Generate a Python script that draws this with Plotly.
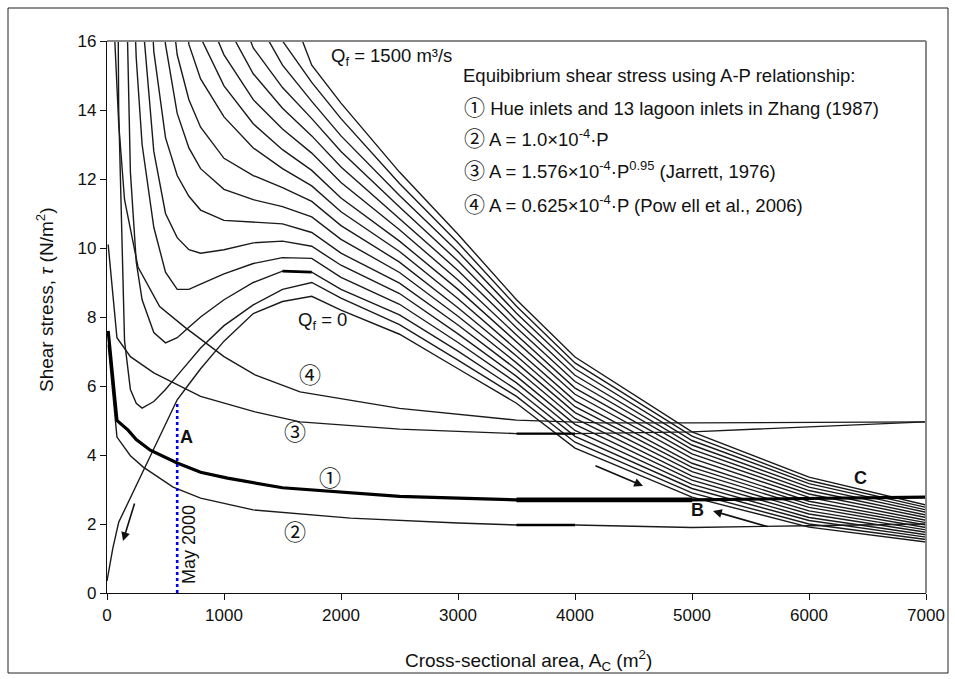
import plotly.graph_objects as go

# ---------------- data ----------------
A_nodes = [0, 50, 100, 150, 200, 250, 300, 400, 500, 600, 700, 800, 1000, 1250, 1500, 1750,
           2000, 2500, 3000, 3500, 4000, 5000, 6000, 7000]

tau_q0 = [0.35, 1.3, 2.05, 2.4, 2.76, 3.1, 3.47, 4.18, 4.9, 5.6, 6.05, 6.5, 7.3, 8.1, 8.45, 8.6,
          8.2, 7.5, 6.5, 5.5, 4.2, 2.78, 1.91, 1.48]
tau_q100 = [None, 40, 14.0, 7.3, 5.9, 5.5, 5.36, 5.55, 5.9, 6.3, 6.7, 7.1, 7.75, 8.35, 8.8, 9.0,
            8.55, 7.78, 6.75, 5.7, 4.37, 2.9, 2.0, 1.55]
tau_q200 = [None, None, 40, 20, 12.2, 9.6, 8.5, 7.55, 7.25, 7.4, 7.7, 8.0, 8.5, 9.0, 9.33, 9.3,
            8.8, 8.06, 7.01, 5.89, 4.54, 3.03, 2.1, 1.62]
tau_q300 = [None, None, None, 40, 20, 15.5, 13.0, 10.6, 9.3, 8.8, 8.8, 8.95, 9.25, 9.55, 9.72, 9.7,
            9.15, 8.37, 7.26, 6.09, 4.71, 3.15, 2.19, 1.69]
tau_q400 = [None, None, None, None, None, 20, 16.8, 12.8, 11.0, 10.3, 9.95, 9.85, 9.95, 10.15, 10.2, 10.05,
            9.5, 8.68, 7.51, 6.28, 4.89, 3.27, 2.29, 1.76]
tau_q500 = [None, None, None, None, None, None, 22, 15.7, 13.2, 12.1, 11.5, 11.1, 10.8, 10.75, 10.7, 10.45,
            9.85, 8.98, 7.77, 6.48, 5.06, 3.39, 2.38, 1.83]
tau_q600 = [None, None, None, None, None, None, None, 19.5, 15.9, 13.9, 12.9, 12.3, 11.7, 11.4, 11.2, 10.9,
            10.25, 9.29, 8.02, 6.67, 5.23, 3.52, 2.48, 1.9]
tau_q700 = [None, None, None, None, None, None, None, None, 18.5, 15.6, 14.3, 13.5, 12.6, 12.1, 11.75, 11.35,
            10.65, 9.59, 8.27, 6.87, 5.4, 3.64, 2.57, 1.97]
tau_q800 = [None, None, None, None, None, None, None, None, None, 18.5, 15.9, 14.9, 13.8, 12.9, 12.3, 11.8,
            11.05, 9.9, 8.53, 7.06, 5.57, 3.76, 2.66, 2.04]
tau_q900 = [None, None, None, None, None, None, None, None, None, None, 17.5, 16.1, 14.7, 13.6, 12.85, 12.25,
            11.45, 10.2, 8.8, 7.27, 5.76, 3.9, 2.77, 2.11]
tau_q1000 = [None, None, None, None, None, None, None, None, None, None, None, 17.2, 15.6, 14.3, 13.45, 12.75,
             11.9, 10.53, 9.07, 7.48, 5.94, 4.03, 2.87, 2.19]
tau_q1100 = [None, None, None, None, None, None, None, None, None, None, None, None, 16.6, 15.05, 14.05, 13.25,
             12.35, 10.86, 9.35, 7.69, 6.13, 4.16, 2.97, 2.26]
tau_q1200 = [None, None, None, None, None, None, None, None, None, None, None, None, 18.0, 15.8, 14.65, 13.75,
             12.8, 11.19, 9.62, 7.9, 6.31, 4.29, 3.07, 2.34]
tau_q1300 = [None, None, None, None, None, None, None, None, None, None, None, None, None, 16.8, 15.3, 14.25,
             13.25, 11.52, 9.89, 8.11, 6.5, 4.42, 3.17, 2.41]
tau_q1400 = [None, None, None, None, None, None, None, None, None, None, None, None, None, 18.5, 16.0, 14.8,
             13.75, 11.87, 10.15, 8.31, 6.67, 4.55, 3.26, 2.48]
tau_q1500 = [None, None, None, None, None, None, None, None, None, None, None, None, None, None, 17.5, 15.3,
             14.2, 12.2, 10.4, 8.5, 6.84, 4.67, 3.36, 2.55]

family = [tau_q0, tau_q100, tau_q200, tau_q300, tau_q400, tau_q500, tau_q600, tau_q700,
          tau_q800, tau_q900, tau_q1000, tau_q1100, tau_q1200, tau_q1300, tau_q1400, tau_q1500]

# equilibrium shear stress curves (A-P relationships)
eq1_A = [10, 85, 180, 250, 370, 600, 800, 1030, 1500, 2080, 2500, 3000, 3500, 5000, 7000]
eq1_tau = [7.6, 5.0, 4.72, 4.45, 4.14, 3.77, 3.5, 3.33, 3.05, 2.9, 2.8, 2.75, 2.7, 2.7, 2.78]
eq2_A = [10, 85, 200, 310, 565, 800, 1250, 2080, 3000, 3500, 4000, 5000, 6000, 7000]
eq2_tau = [7.2, 4.52, 3.98, 3.65, 3.07, 2.75, 2.41, 2.17, 2.03, 1.97, 1.97, 1.9, 1.95, 2.0]
eq3_A = [10, 85, 200, 400, 800, 1265, 1650, 2500, 3500, 4000, 5000, 6000, 7000]
eq3_tau = [10.1, 7.4, 6.85, 6.38, 5.7, 5.25, 4.96, 4.75, 4.62, 4.62, 4.67, 4.82, 4.96]
eq4_A = [60, 100, 150, 265, 450, 667, 1000, 1265, 1650, 2500, 3500, 4200, 5000, 7000]
eq4_tau = [16.5, 13.6, 11.4, 9.45, 8.3, 7.7, 6.85, 6.32, 5.83, 5.35, 5.01, 4.93, 4.93, 4.96]

may2000_A = [600, 600]
may2000_tau = [0, 5.55]

x_ticks = [0, 1000, 2000, 3000, 4000, 5000, 6000, 7000]
y_ticks = [0, 2, 4, 6, 8, 10, 12, 14, 16]

FONT = "Liberation Sans, Arial, Noto Sans CJK JP, sans-serif"
fig = go.Figure()

for tau in family:
    fig.add_trace(go.Scatter(x=A_nodes, y=tau, mode="lines",
                             line=dict(color="#1a1a1a", width=1.4), hoverinfo="skip"))
# slightly heavier segment on the Qf=200 curve
fig.add_trace(go.Scatter(x=A_nodes[14:16], y=tau_q200[14:16], mode="lines",
                         line=dict(color="#000", width=2.6), hoverinfo="skip"))

fig.add_trace(go.Scatter(x=eq4_A, y=eq4_tau, mode="lines", line=dict(color="#1a1a1a", width=1.4)))
fig.add_trace(go.Scatter(x=eq3_A, y=eq3_tau, mode="lines", line=dict(color="#1a1a1a", width=1.4)))
fig.add_trace(go.Scatter(x=eq3_A[8:10], y=eq3_tau[8:10], mode="lines", line=dict(color="#000", width=2.4)))
fig.add_trace(go.Scatter(x=eq2_A, y=eq2_tau, mode="lines", line=dict(color="#1a1a1a", width=1.4)))
fig.add_trace(go.Scatter(x=eq2_A[9:11], y=eq2_tau[9:11], mode="lines", line=dict(color="#000", width=2.4)))
fig.add_trace(go.Scatter(x=eq1_A, y=eq1_tau, mode="lines", line=dict(color="#000", width=3.2)))
fig.add_trace(go.Scatter(x=eq1_A[12:14], y=eq1_tau[12:14], mode="lines", line=dict(color="#000", width=4.6)))

fig.add_trace(go.Scatter(x=may2000_A, y=may2000_tau, mode="lines",
                         line=dict(color="#0000ee", width=2.6, dash="dot")))


def ax2d(px):
    return (px - 107) / 0.117


def ay2d(py):
    return (593 - py) / 34.5


ann = []


def circ(ch, size=21):
    return '<span style="font-family:Noto Sans CJK JP;font-size:%dpx">%s</span>' % (size, ch)


def txt(px, py, s, size=18, xanchor="left", color="#111", **kw):
    ann.append(dict(x=ax2d(px), y=ay2d(py), text=s, showarrow=False, xanchor=xanchor, yanchor="middle",
                    font=dict(size=size, color=color, family=FONT), **kw))


txt(329, 57, "Q<sub>f</sub> = 1500 m³/s", size=18.5)
txt(461, 75, "Equibibrium shear stress using A-P relationship:", size=18.5)
txt(462, 106, circ("①") + " Hue inlets and 13 lagoon inlets in Zhang (1987)", size=18.5)
txt(462, 137, circ("②") + " A = 1.0×10<sup>-4</sup>·P", size=18.5)
txt(462, 169, circ("③") + " A = 1.576×10<sup>-4</sup>·P<sup>0.95</sup> (Jarrett, 1976)", size=18.5)
txt(462, 203, circ("④") + " A = 0.625×10<sup>-4</sup>·P (Pow ell et al., 2006)", size=18.5)
txt(296, 321, "Q<sub>f</sub> = 0", size=18.5)
txt(310, 373, circ("④", 22), size=16, xanchor="center")
txt(295, 430, circ("③", 22), size=16, xanchor="center")
txt(330, 476, circ("①", 22), size=16, xanchor="center")
txt(295, 530, circ("②", 22), size=16, xanchor="center")
txt(186, 437, "<b>A</b>", size=18, xanchor="center")
txt(697, 510, "<b>B</b>", size=18, xanchor="center")
txt(860, 478, "<b>C</b>", size=18, xanchor="center")
txt(189, 545, "May 2000", size=18, xanchor="center", textangle=-90)


def arrow(tx, ty, hx, hy):
    ann.append(dict(x=ax2d(hx), y=ay2d(hy), ax=ax2d(tx), ay=ay2d(ty), xref="x", yref="y",
                    axref="x", ayref="y", text="", showarrow=True, arrowhead=2, arrowsize=1.1,
                    arrowwidth=1.6, arrowcolor="#111"))


arrow(135, 502, 123, 541)
arrow(594, 465, 643, 486)
arrow(769, 527, 713, 511)

# axis titles as annotations (pixel positions from the reference)
ann.append(dict(xref="paper", yref="paper", x=(528 - 107) / 819, y=(593 - 660) / 552,
                text="Cross-sectional area, A<sub>C</sub> (m<sup>2</sup>)", showarrow=False,
                xanchor="center", yanchor="middle", font=dict(size=19, color="#111", family=FONT)))
ann.append(dict(xref="paper", yref="paper", x=(45 - 107) / 819, y=(593 - 300) / 552,
                text="Shear stress, <i>τ</i> (N/m<sup>2</sup>)", showarrow=False, textangle=-90,
                xanchor="center", yanchor="middle", font=dict(size=19, color="#111", family=FONT)))

fig.update_layout(
    width=955, height=679,
    margin=dict(l=107, r=29, t=41, b=86, autoexpand=False),
    paper_bgcolor="white", plot_bgcolor="white",
    showlegend=False,
    font=dict(family=FONT, size=16, color="#111"),
    annotations=ann,
    xaxis=dict(range=[0, 7000], tickvals=x_ticks, ticks="outside", ticklen=6, tickcolor="#111",
               showgrid=False, zeroline=False, showline=True, linecolor="#111", linewidth=1.4,
               automargin=False, tickfont=dict(size=17, color="#111")),
    yaxis=dict(range=[0, 16], tickvals=y_ticks, ticks="outside", ticklen=6, tickcolor="#111",
               showgrid=False, zeroline=False, showline=True, linecolor="#111", linewidth=1.4,
               automargin=False, tickfont=dict(size=17, color="#111")),
    shapes=[
        dict(type="line", xref="paper", yref="paper", x0=0, x1=1, y0=1, y1=1,
             line=dict(color="#888", width=2)),
        dict(type="line", xref="paper", yref="paper", x0=1, x1=1, y0=0, y1=1,
             line=dict(color="#888", width=2)),
        dict(type="rect", xref="paper", yref="paper", x0=(8 - 107) / 819, x1=(948 - 107) / 819,
             y0=(593 - 673) / 552, y1=(593 - 8) / 552, line=dict(color="#222", width=1)),
    ],
)

fig.write_html("out.html")
